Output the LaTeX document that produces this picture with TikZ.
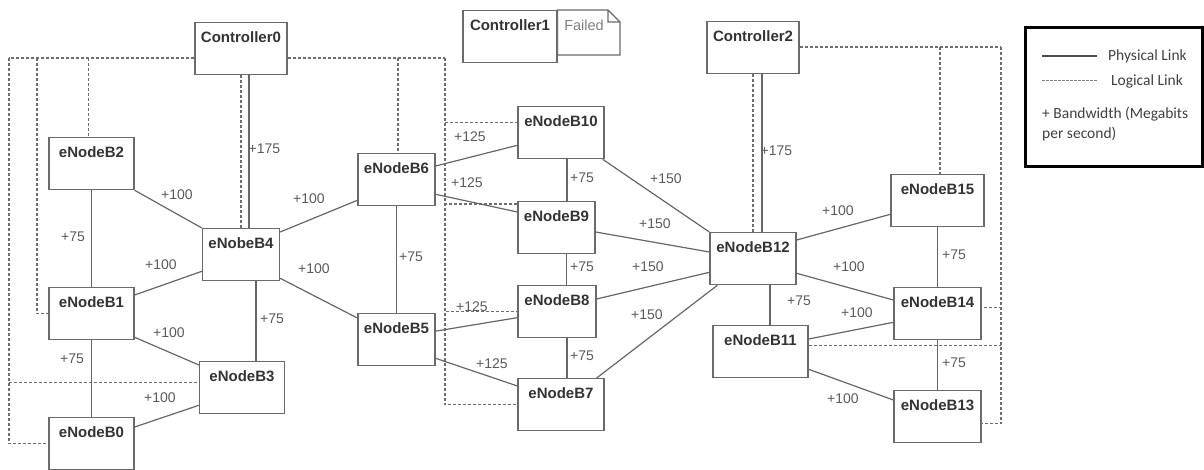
\documentclass[tikz,border=0pt]{standalone}
\usepackage{fontspec}
\setmainfont{Liberation Sans}
\newfontfamily\legendfont{Carlito}

\definecolor{boxgray}{HTML}{6A6A6A}
\definecolor{linkgray}{HTML}{666666}
\definecolor{dashgray}{HTML}{6E6E6E}
\definecolor{bwgray}{HTML}{5A5A5A}
\definecolor{namegray}{HTML}{333333}

\begin{document}
\begin{tikzpicture}[x=1pt,y=-1pt,
    enb/.style={draw=boxgray,line width=1.3pt,inner sep=0pt,anchor=north,
      minimum width=86pt,text height=20pt,text depth=32pt,
      font=\fontsize{15}{18}\selectfont\bfseries,text=namegray},
    phys/.style={draw=linkgray,line width=1.2pt},
    logic/.style={draw=dashgray,line width=1.3pt,dash pattern=on 3pt off 2pt},
    bw/.style={font=\fontsize{14}{16}\selectfont,text=bwgray,inner sep=0pt},
    lgd/.style={font=\legendfont\fontsize{15.5}{20}\selectfont,text=black!75,inner sep=0pt}]
      \useasboundingbox (0,0) rectangle (1204,470);

      \node[enb,minimum width=92pt] (ctrl0) at (241,22) {Controller0};
      \node[enb,minimum width=94pt] (ctrl1) at (510,10) {Controller1};
      \node[enb,minimum width=92pt] (ctrl2) at (753,21) {Controller2};

      \node[enb,minimum width=85pt] (b2) at (91.5,137) {eNodeB2};
      \node[enb,minimum width=85pt] (b1) at (91.5,287) {eNodeB1};
      \node[enb,minimum width=85pt] (b0) at (91.5,417) {eNodeB0};
      \node[enb,minimum width=77pt] (b4) at (241,228) {eNobeB4};
      \node[enb,minimum width=85pt] (b3) at (242,361) {eNodeB3};
      \node[enb,minimum width=77pt] (b6) at (396.5,153) {eNodeB6};
      \node[enb,minimum width=77pt] (b5) at (396.5,313) {eNodeB5};
      \node[enb] (b10) at (561,106) {eNodeB10};
      \node[enb,minimum width=77pt] (b9) at (556.5,201) {eNodeB9};
      \node[enb,minimum width=78pt] (b8) at (557,285) {eNodeB8};
      \node[enb] (b7) at (561,378) {eNodeB7};
      \node[enb] (b12) at (753,232) {eNodeB12};
      \node[enb,minimum width=95pt] (b11) at (760.5,325) {eNodeB11};
      \node[enb,minimum width=93pt] (b15) at (937.5,174) {eNodeB15};
      \node[enb,minimum width=87pt] (b14) at (937.5,287) {eNodeB14};
      \node[enb,minimum width=87pt] (b13) at (937.5,390) {eNodeB13};

      \draw[boxgray,line width=1.1pt] (ctrl1.north east) -- (608,10) -- (620,22)
        -- (620,55) -- (ctrl1.north east |- 0,55) -- cycle
        (608,10) -- (608,22) -- (620,22);
      \node[font=\fontsize{14.5}{17}\selectfont,text=black!50,inner sep=0pt] (fail) at (584,25) {Failed};

      \coordinate (c0l) at (9,58);
      \coordinate (c0m) at (37,58);
      \coordinate (c0r) at (445,58);
      \coordinate (c2r) at (1001,47);

      \draw[logic] (ctrl0.west |- c0l) -- (c0l);
      \draw[logic] (c0l) |- (b0.west);
      \draw[logic] (c0l) |- ([yshift=5pt]b3.west);
      \draw[logic] (c0m) |- (b1.west);
      \draw[logic] ([xshift=-3pt]b2.north |- c0l) -- ([xshift=-3pt]b2.north);
      \draw[logic] (ctrl0) -- (b4);
      \draw[logic] (ctrl0.east |- c0l) -- (c0r);
      \draw[logic] ([xshift=1.5pt]b6.north |- c0l) -- ([xshift=1.5pt]b6.north);
      \draw[logic] (c0r) |- (b7.west);
      \draw[logic] (c0r) |- ([yshift=10pt]b10.west);
      \draw[logic] (c0r) |- ([yshift=-3pt]b9.north west);
      \draw[logic] (c0r) |- (b8.west);

      \draw[logic] (ctrl2.east |- c2r) -- (c2r);
      \draw[logic] (c2r) |- ([yshift=-7pt]b13.east);
      \draw[logic] (c2r) |- ([yshift=6pt]b14.east);
      \draw[logic] ([xshift=2.5pt]b15.north |- c2r) -- ([xshift=2.5pt]b15.north);
      \draw[logic] ([yshift=6pt]b11.east) -- ([yshift=6pt]b11.east -| c2r);
      \draw[logic] (ctrl2) -- (b12);

      \path[phys]
      ([xshift=8pt]ctrl0.south) edge ([xshift=8pt]b4.north)
      (b2.south east) edge (b4.north west)
      (b2) edge (b1)
      ([yshift=-8pt]b1.north east) edge ([yshift=10pt]b4.south west)
      ([yshift=-4pt]b4.north east) edge ([yshift=6pt]b6.south west)
      ([yshift=3pt]b4.south east) edge ([yshift=-5pt]b5.north west)
      ([xshift=15pt]b4.south) edge ([xshift=15pt]b4.south |- b3.north)
      ([yshift=3pt]b1.south east) edge ([yshift=-4pt]b3.north west)
      (b1) edge (b0)
      ([yshift=9pt]b3.south west) edge ([yshift=-10pt]b0.north east)
      (b6) edge (b5)
      ([yshift=-13pt]b6.north east) edge ([yshift=14pt]b10.south west)
      ([yshift=12pt]b6.south east) edge ([yshift=-11pt]b9.north west)
      ([yshift=8.5pt]b5.east) edge ([yshift=-6pt]b8.west)
      ([yshift=8pt]b5.south east) edge ([yshift=-8pt]b7.north west)
      ([xshift=6pt]b10.south) edge ([xshift=6pt]b10.south |- b9.north)
      ([xshift=10pt]b9.south) edge ([xshift=10pt]b9.south |- b8.north)
      ([xshift=10pt]b8.south) edge ([xshift=10pt]b8.south |- b7.north)
      ([xshift=-2pt]b10.south east) edge (b12.north west)
      ([yshift=-31pt]b9.north east) edge ([yshift=-20pt]b12.north west)
      ([yshift=-14pt]b8.north east) edge ([yshift=13pt]b12.south west)
      ([xshift=-8pt]b7.north east) edge ([xshift=8pt]b12.south west)
      ([xshift=9pt]ctrl2.south) edge ([xshift=9pt]b12.north)
      ([yshift=-8pt]b12.north east) edge ([yshift=13pt]b15.south west)
      ([yshift=12pt]b12.south east) edge ([yshift=-13pt]b14.north west)
      ([xshift=17pt]b12.south) edge ([xshift=17pt]b12.south |- b11.north)
      (b15) edge (b14)
      ([yshift=-14pt]b11.north east) edge ([yshift=18pt]b14.south west)
      (b14) edge (b13)
      ([yshift=9pt]b11.south east) edge ([yshift=-10pt]b13.north west)
      ;

      \node[bw] (w1) at (264.5,149) {+175};
      \node[bw] (w2) at (177,195) {+100};
      \node[bw] (w3) at (73,237) {+75};
      \node[bw] (w4) at (161,265) {+100};
      \node[bw] (w5) at (309,199) {+100};
      \node[bw] (w6) at (314,269) {+100};
      \node[bw] (w7) at (272,319) {+75};
      \node[bw] (w8) at (169,333) {+100};
      \node[bw] (w9) at (72,359) {+75};
      \node[bw] (w10) at (160,398) {+100};
      \node[bw] (w11) at (411,257) {+75};
      \node[bw] (w12) at (470,137) {+125};
      \node[bw] (w13) at (467,183) {+125};
      \node[bw] (w14) at (472,307) {+125};
      \node[bw] (w15) at (492,364) {+125};
      \node[bw] (w16) at (582,178) {+75};
      \node[bw] (w17) at (582,267) {+75};
      \node[bw] (w18) at (582,356) {+75};
      \node[bw] (w19) at (666,179) {+150};
      \node[bw] (w20) at (655,224) {+150};
      \node[bw] (w21) at (648,267) {+150};
      \node[bw] (w22) at (647,315) {+150};
      \node[bw] (w23) at (776.5,151) {+175};
      \node[bw] (w24) at (838,211) {+100};
      \node[bw] (w25) at (849,267) {+100};
      \node[bw] (w26) at (799,301) {+75};
      \node[bw] (w27) at (954,255) {+75};
      \node[bw] (w28) at (857,313) {+100};
      \node[bw] (w29) at (954,363) {+75};
      \node[bw] (w30) at (843,399) {+100};

      \node[draw,line width=3pt,anchor=north west,minimum width=177pt,minimum height=139pt] (legend) at (1024,26) {};
      \coordinate (ps) at (1042,56);
      \coordinate (pe) at (1097,56);
      \coordinate (ls) at (1042,81);
      \coordinate (le) at (1097,81);
      \draw[draw=black!70,line width=1.2pt] (ps) -- (pe);
      \draw[draw=black!50,line width=1pt,dash pattern=on 2.5pt off 1.5pt] (ls) -- (le);
      \node[lgd,anchor=west] (ptxt) at (1108,56) {Physical Link};
      \node[lgd,anchor=west] (ltxt) at (1111,81) {Logical Link};
      \node[lgd,anchor=north west,align=left] (btxt) at (1042,107) {+ Bandwidth (Megabits\\per second)};
    \end{tikzpicture}
\end{document}
